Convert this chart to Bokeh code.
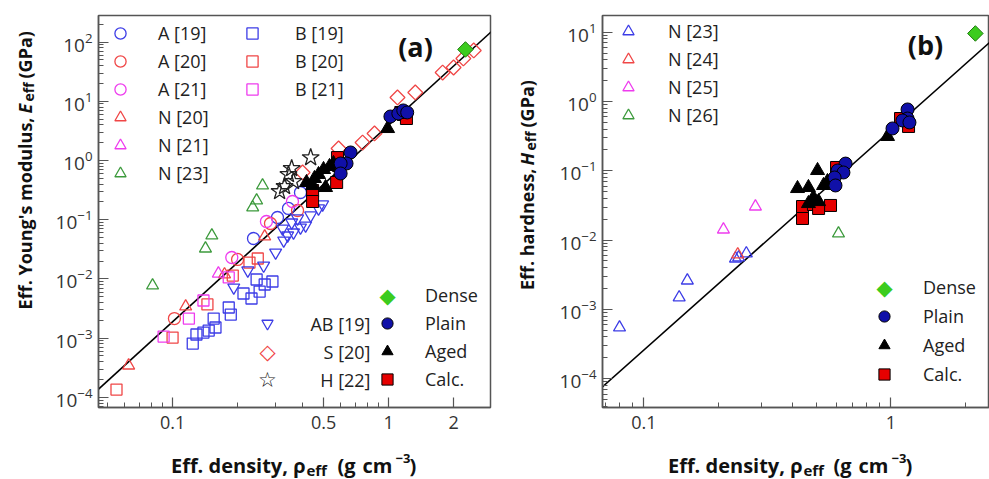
import numpy as np
from bokeh.plotting import figure
from bokeh.models import (Range1d, FixedTicker, LogTickFormatter, NumeralTickFormatter,
                          Label, Legend, LegendItem)
from bokeh.layouts import row, column
from bokeh.embed import file_html
from bokeh.resources import INLINE
from bokeh.core.properties import value

# ---------------- data: panel (a)  (rho_eff in g/cm3, E_eff in GPa) ----------------
a_A19_rho = [0.237, 0.306, 0.344, 0.391]
a_A19_E = [0.0481, 0.109, 0.155, 0.288]
a_A20_rho = [0.102, 0.200, 0.284, 0.379]
a_A20_E = [0.00214, 0.0213, 0.0863, 0.143]
a_A21_rho = [0.188, 0.272, 0.359]
a_A21_E = [0.023, 0.0933, 0.203]
a_N20_rho = [0.0626, 0.115, 0.174, 0.267]
a_N20_E = [0.000344, 0.00342, 0.0119, 0.052]
a_N21_rho = [0.163]
a_N21_E = [0.0123]
a_N23_rho = [0.0808, 0.142, 0.152, 0.235, 0.245, 0.261]
a_N23_E = [0.00774, 0.0326, 0.0541, 0.161, 0.211, 0.378]
a_B19_rho = [0.124, 0.129, 0.139, 0.147, 0.155, 0.158, 0.182, 0.186, 0.213, 0.232, 0.245, 0.253, 0.267, 0.290]
a_B19_E = [8.1e-4, 1.15e-3, 1.24e-3, 1.34e-3, 2.14e-3, 1.51e-3, 3.29e-3, 2.5e-3, 5.67e-3, 4.67e-3, 9.77e-3, 6.12e-3, 8.04e-3, 9.04e-3]
a_B20_rho = [0.0550, 0.100, 0.145, 0.190, 0.227, 0.248]
a_B20_E = [1.35e-4, 1.02e-3, 3.7e-3, 0.0114, 0.0189, 0.0221]
a_B21_rho = [0.0909, 0.119, 0.139, 0.182]
a_B21_E = [1.06e-3, 2.14e-3, 4.32e-3, 0.0106]
a_AB19_rho = [0.192, 0.223, 0.264, 0.300, 0.327, 0.341, 0.363, 0.391, 0.413, 0.436, 0.474, 0.495, 0.356, 0.379, 0.323]
a_AB19_E = [7.16e-3, 0.0139, 0.0168, 0.0279, 0.0445, 0.0541, 0.0608, 0.0738, 0.0798, 0.118, 0.155, 0.181, 0.0897, 0.105, 0.071]
a_S20_rho = [0.400, 0.587, 0.758, 0.861, 1.10, 1.33, 1.78, 2.00, 2.22, 2.48]
a_S20_E = [0.627, 1.595, 2.01, 2.86, 11.6, 14.1, 30.6, 37.2, 52.8, 72.1]
a_H22_rho = [0.313, 0.330, 0.344, 0.356, 0.363, 0.436]
a_H22_E = [0.299, 0.364, 0.580, 0.733, 0.442, 1.12]
a_dense_rho = [2.27]
a_dense_E = [75.0]
a_plain_rho = [1.02, 1.11, 1.17, 1.22, 0.667, 0.639, 0.600, 0.600]
a_plain_E = [5.53, 6.22, 7.0, 6.47, 1.365, 0.89, 0.89, 0.603]
a_aged_rho = [0.99, 0.417, 0.454, 0.474, 0.511, 0.500, 0.533, 0.556, 0.445]
a_aged_E = [3.47, 0.425, 0.497, 0.580, 0.350, 0.705, 0.792, 0.89, 0.378]
a_calc_rho = [0.445, 0.445, 0.575, 0.580, 0.587, 1.17, 1.21, 1.14]
a_calc_E = [0.311, 0.203, 0.425, 1.12, 0.823, 5.98, 5.12, 6.47]
a_fit_coef, a_fit_exp = 3.94, 3.32

# ---------------- data: panel (b)  (rho_eff, H_eff in GPa) ----------------
b_N23_rho = [0.0797, 0.139, 0.150, 0.235, 0.242, 0.260]
b_N23_H = [5.48e-4, 1.49e-3, 2.61e-3, 5.42e-3, 5.61e-3, 6.41e-3]
b_N24_rho = [0.240]
b_N24_H = [6.2e-3]
b_N25_rho = [0.210, 0.283]
b_N25_H = [0.0142, 0.0305]
b_N26_rho = [0.614]
b_N26_H = [0.01245]
b_plain_rho = [1.169, 1.169, 1.115, 1.19, 1.016, 0.656, 0.609, 0.643, 0.592, 0.597]
b_plain_H = [0.767, 0.568, 0.532, 0.498, 0.408, 0.127, 0.101, 0.0945, 0.080, 0.0614]
b_aged_rho = [0.970, 0.505, 0.419, 0.464, 0.534, 0.554, 0.486, 0.464, 0.510]
b_aged_H = [0.313, 0.101, 0.0555, 0.0574, 0.0614, 0.070, 0.0412, 0.0337, 0.036]
b_calc_rho = [1.095, 1.18, 0.439, 0.439, 0.486, 0.570, 0.603, 0.510]
b_calc_H = [0.568, 0.436, 0.0305, 0.0205, 0.0326, 0.0316, 0.1116, 0.0286]
b_dense_rho = [2.20]
b_dense_H = [9.58]
b_fit_coef, b_fit_exp = 0.383, 3.17

x_ticks_a = [0.1, 0.5, 1, 2]
x_minor_a = [0.05, 0.06, 0.07, 0.08, 0.09, 0.2, 0.3, 0.4, 0.6, 0.7, 0.8, 0.9, 3]
x_ticks_b = [0.1, 1]
x_minor_b = [0.06, 0.07, 0.08, 0.09, 0.2, 0.3, 0.4, 0.5, 0.6, 0.7, 0.8, 0.9, 2, 3]

# ---------------- style ----------------
FONT = "Open Sans"
BLUE, RED, MAG, GRN = "#3c3ce6", "#f04646", "#ee3cee", "#3c9a3c"
PLAIN, CALC, DENSE = "#1010a8", "#e60000", "#3ccc1e"
AX = "#555555"
TXT = "#222222"
H_FIG = 449      # main figures (frame 392 px tall)
H_ALL = 479


def decade_ticks(lo, hi):
    major = [10.0 ** k for k in range(lo, hi + 1)]
    minor = [m * 10.0 ** k for k in range(lo - 1, hi + 1) for m in range(2, 10)]
    return major, minor


def make_fig(width, xr, yr, bl, br, xt, xm, ydec):
    p = figure(width=width, height=H_FIG, x_axis_type="log", y_axis_type="log",
               x_range=Range1d(*xr), y_range=Range1d(*yr), title=None,
               output_backend="svg", toolbar_location=None,
               min_border_left=bl, min_border_right=br, min_border_top=15, min_border_bottom=42)
    p.grid.visible = False
    p.outline_line_color = AX
    p.outline_line_width = 1.5
    p.xaxis.ticker = FixedTicker(ticks=xt, minor_ticks=xm)
    p.xaxis.formatter = NumeralTickFormatter(format="0.[0]")
    ymaj, ymin = decade_ticks(*ydec)
    p.yaxis.ticker = FixedTicker(ticks=ymaj, minor_ticks=ymin)
    p.yaxis.formatter = LogTickFormatter()
    for ax in (p.xaxis[0], p.yaxis[0]):
        ax.axis_line_color = AX
        ax.axis_line_width = 1.5
        ax.major_tick_in = 10
        ax.major_tick_out = 0
        ax.minor_tick_in = 5
        ax.minor_tick_out = 0
        ax.major_tick_line_color = AX
        ax.minor_tick_line_color = AX
        ax.major_tick_line_width = 1.2
        ax.minor_tick_line_width = 1.0
        ax.major_label_text_font = FONT
        ax.major_label_text_color = "#333333"
    p.xaxis.major_label_text_font_size = "18px"
    p.yaxis.major_label_text_font_size = "19px"
    p.xaxis.major_label_standoff = 8
    p.yaxis.major_label_standoff = 6
    return p


def strip(width, height):
    s = figure(width=width, height=height, x_range=Range1d(0, width), y_range=Range1d(0, height),
               x_axis_location=None, y_axis_location=None, output_backend="svg", title=None,
               toolbar_location=None, min_border=0)
    s.grid.visible = False
    s.outline_line_color = None
    return s


def lab(p, x, y, text, size=18, style="bold", align="left", angle=0, color="#111111",
        baseline="alphabetic", font=FONT):
    p.add_layout(Label(x=x, y=y, x_units="screen", y_units="screen", text=text,
                       text_font=font, text_font_size=f"{size}px", text_font_style=style,
                       text_color=color, text_align=align, text_baseline=baseline,
                       angle=angle, angle_units="deg"))


def openm(p, x, y, marker, color, size=12):
    return p.scatter(x, y, marker=marker, size=size, line_color=color, fill_color=None, line_width=1.3)


def legend(p, items, loc, standoff, spacing=0):
    lg = Legend(items=items, location=loc, orientation="vertical",
                glyph_width=28, glyph_height=28, spacing=spacing, padding=0, margin=0,
                label_standoff=standoff, label_text_font=FONT, label_text_font_size="18px",
                label_text_color=TXT, border_line_color=None, background_fill_alpha=0)
    p.add_layout(lg)


def key_only(p):
    # legend slot whose key symbol is drawn as a text symbol (legend keys cannot be rotated/enlarged)
    return p.scatter([], [], marker="square", size=1, line_alpha=0, fill_alpha=0)


# ================= panel (a) =================
pa = make_fig(462, (0.0454, 2.965), (6.73e-5, 281), 50, 20, x_ticks_a, x_minor_a, (-4, 2))
fit_x = [0.03, 4.0]
pa.line(fit_x, [a_fit_coef * v ** a_fit_exp for v in fit_x], line_color="black", line_width=1.6)

rA19 = openm(pa, a_A19_rho, a_A19_E, "circle", BLUE)
rA20 = openm(pa, a_A20_rho, a_A20_E, "circle", RED)
rA21 = openm(pa, a_A21_rho, a_A21_E, "circle", MAG)
rN20 = openm(pa, a_N20_rho, a_N20_E, "triangle", RED)
rN21 = openm(pa, a_N21_rho, a_N21_E, "triangle", MAG)
rN23 = openm(pa, a_N23_rho, a_N23_E, "triangle", GRN)
rB19 = openm(pa, a_B19_rho, a_B19_E, "square", BLUE, 11)
rB20 = openm(pa, a_B20_rho, a_B20_E, "square", RED, 11)
rB21 = openm(pa, a_B21_rho, a_B21_E, "square", MAG, 11)
rAB = openm(pa, a_AB19_rho, a_AB19_E, "inverted_triangle", BLUE)
rS = pa.scatter(a_S20_rho, a_S20_E, marker="square", angle=np.pi / 4, size=10.5,
                line_color=RED, fill_color=None, line_width=1.3)
rH = openm(pa, a_H22_rho, a_H22_E, "star", "#222222", 18)
rCa = pa.scatter(a_calc_rho, a_calc_E, marker="square", size=12, fill_color=CALC, line_color="black", line_width=1)
rAg = pa.scatter(a_aged_rho, a_aged_E, marker="triangle", size=14, fill_color="black", line_color="black")
rPl = pa.scatter(a_plain_rho, a_plain_E, marker="circle", size=13, fill_color=PLAIN, line_color="black", line_width=1)
rDe = pa.scatter(a_dense_rho, a_dense_E, marker="square", angle=np.pi / 4, size=11,
                 fill_color=DENSE, line_color="#1f7a10", line_width=1)
kDe_a = key_only(pa)
kS_a = key_only(pa)
kH_a = key_only(pa)

legend(pa, [LegendItem(label="A [19]", renderers=[rA19]), LegendItem(label="A [20]", renderers=[rA20]),
            LegendItem(label="A [21]", renderers=[rA21]), LegendItem(label="N [20]", renderers=[rN20]),
            LegendItem(label="N [21]", renderers=[rN21]), LegendItem(label="N [23]", renderers=[rN23])],
       (8, 220), 24)
legend(pa, [LegendItem(label="B [19]", renderers=[rB19]), LegendItem(label="B [20]", renderers=[rB20]),
            LegendItem(label="B [21]", renderers=[rB21])], (140, 304), 29)
legend(pa, [LegendItem(label="Dense", renderers=[kDe_a]), LegendItem(label="Plain", renderers=[rPl]),
            LegendItem(label="Aged", renderers=[rAg]), LegendItem(label="Calc.", renderers=[rCa])],
       (275, 14), 24)
legend(pa, [LegendItem(label=value(""), renderers=[rAB]), LegendItem(label=value(""), renderers=[kS_a]),
            LegendItem(label=value(""), renderers=[kH_a])], (155, 14), 2)
for txt, yy in (("AB [19]", 84), ("S [20]", 56), ("H [22]", 28)):
    lab(pa, 272, yy, txt, style="normal", align="right", color=TXT, baseline="middle")
lab(pa, 289, 112, "◆", size=21, style="normal", align="center", color=DENSE, baseline="middle",
    font="DejaVu Sans")
lab(pa, 169, 56, "◇", size=21, style="normal", align="center", color=RED, baseline="middle",
    font="DejaVu Sans")
lab(pa, 169, 28, "☆", size=21, style="normal", align="center", color="#222222", baseline="middle",
    font="DejaVu Sans")
lab(pa, 317, 361, "(a)", size=27, align="center")

# ================= panel (b) =================
pb = make_fig(439, (0.068, 2.51), (3.84e-5, 17.4), 52, 0, x_ticks_b, x_minor_b, (-4, 1))
pb.line(fit_x, [b_fit_coef * v ** b_fit_exp for v in fit_x], line_color="black", line_width=1.6)
sN23 = openm(pb, b_N23_rho, b_N23_H, "triangle", BLUE)
sN24 = openm(pb, b_N24_rho, b_N24_H, "triangle", RED)
sN25 = openm(pb, b_N25_rho, b_N25_H, "triangle", MAG)
sN26 = openm(pb, b_N26_rho, b_N26_H, "triangle", GRN)
sCa = pb.scatter(b_calc_rho, b_calc_H, marker="square", size=12, fill_color=CALC, line_color="black", line_width=1)
sAg = pb.scatter(b_aged_rho, b_aged_H, marker="triangle", size=14, fill_color="black", line_color="black")
sPl = pb.scatter(b_plain_rho, b_plain_H, marker="circle", size=13, fill_color=PLAIN, line_color="black", line_width=1)
sDe = pb.scatter(b_dense_rho, b_dense_H, marker="square", angle=np.pi / 4, size=11,
                 fill_color=DENSE, line_color="#1f7a10", line_width=1)
kDe_b = key_only(pb)

legend(pb, [LegendItem(label="N [23]", renderers=[sN23]), LegendItem(label="N [24]", renderers=[sN24]),
            LegendItem(label="N [25]", renderers=[sN25]), LegendItem(label="N [26]", renderers=[sN26])],
       (12, 278), 26)
legend(pb, [LegendItem(label="Dense", renderers=[kDe_b]), LegendItem(label="Plain", renderers=[sPl]),
            LegendItem(label="Aged", renderers=[sAg]), LegendItem(label="Calc.", renderers=[sCa])],
       (268, 19), 25, spacing=1)
lab(pb, 282, 120, "◆", size=21, style="normal", align="center", color=DENSE, baseline="middle",
    font="DejaVu Sans")
lab(pb, 323, 363, "(b)", size=27, align="center")

# ================= axis-title strips =================
ya = strip(48, H_ALL)
lab(ya, 24, 362, "Eff. Young's modulus,", angle=90, align="right")
lab(ya, 24, 366, "E", style="bold italic", angle=90)
lab(ya, 28, 378, "eff", size=14, angle=90)
lab(ya, 24, 401, "(GPa)", angle=90)

yb = strip(40, H_ALL)
lab(yb, 16, 311, "Eff. hardness,", angle=90, align="right")
lab(yb, 16, 314, "H", style="bold italic", angle=90)
lab(yb, 20, 329, "eff", size=14, angle=90)
lab(yb, 16, 352, "(GPa)", angle=90)

# x-axis titles: these strips share the frame alignment of the plot above them
xa = strip(462, H_ALL - H_FIG)
lab(xa, 207, 14, "Eff. density, ρ", size=20, align="right")
lab(xa, 208, 10, "eff", size=15)
lab(xa, 239, 14, "(g", size=20)
lab(xa, 264, 14, "cm", size=20)
lab(xa, 297, 21, "−3", size=13)
lab(xa, 311, 14, ")", size=20)

xb = strip(439, H_ALL - H_FIG)
lab(xb, 200, 14, "Eff. density, ρ", size=20, align="right")
lab(xb, 201, 10, "eff", size=15)
lab(xb, 231, 14, "(g", size=20)
lab(xb, 256, 14, "cm", size=20)
lab(xb, 289, 21, "−3", size=13)
lab(xb, 303, 14, ")", size=20)

layout = row(ya, column(pa, xa), yb, column(pb, xb))
open("out.html", "w").write(file_html(layout, INLINE))
